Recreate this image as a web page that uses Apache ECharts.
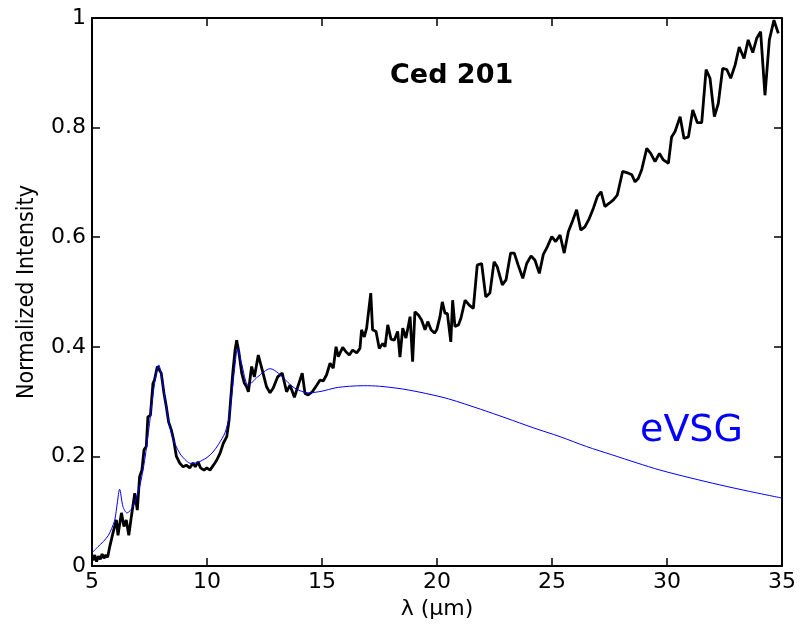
<!DOCTYPE html>
<html>
<head>
<meta charset="utf-8">
<script src="https://cdn.jsdelivr.net/npm/echarts@6/dist/echarts.min.js"></script>
<style>html,body{margin:0;padding:0;background:#fff}#c{width:800px;height:633px}</style>
</head>
<body>
<div id="c"></div>
<script>
// Observed spectrum (black)
const obsX = [5.04,5.12,5.2,5.28,5.36,5.44,5.52,5.6,5.68,5.77,5.91,6.06,6.13,6.28,6.39,6.49,6.60,6.71,6.86,6.97,7.07,7.17,7.26,7.36,7.43,7.54,7.65,7.72,7.84,7.91,8.01,8.13,8.23,8.33,8.45,8.55,8.67,8.81,8.96,9.10,9.25,9.39,9.49,9.61,9.72,9.87,9.99,10.13,10.28,10.42,10.57,10.71,10.86,10.96,11.04,11.12,11.22,11.29,11.39,11.51,11.62,11.72,11.80,11.94,12.06,12.23,12.40,12.59,12.74,12.88,13.07,13.27,13.46,13.61,13.80,13.97,14.14,14.26,14.40,14.58,14.77,14.91,15.06,15.20,15.35,15.49,15.61,15.71,15.90,16.04,16.19,16.33,16.51,16.65,16.72,16.84,16.94,17.12,17.20,17.35,17.49,17.64,17.74,17.86,18.00,18.14,18.29,18.39,18.51,18.65,18.83,18.94,19.04,19.19,19.33,19.48,19.60,19.74,19.89,19.99,20.13,20.23,20.35,20.45,20.60,20.68,20.78,20.93,21.04,21.22,21.40,21.58,21.75,21.94,22.12,22.30,22.48,22.62,22.84,23.00,23.20,23.36,23.53,23.73,23.90,24.09,24.26,24.45,24.62,24.80,24.99,25.16,25.35,25.53,25.71,25.88,26.07,26.25,26.43,26.62,26.80,26.97,27.13,27.30,27.49,27.67,27.84,28.07,28.25,28.47,28.61,28.75,28.90,29.12,29.29,29.48,29.67,29.84,30.06,30.20,30.35,30.57,30.74,30.93,31.12,31.32,31.51,31.70,31.87,32.06,32.23,32.42,32.60,32.77,32.96,33.14,33.35,33.53,33.73,33.90,34.07,34.26,34.45,34.65,34.84];
const obsY = [0.010,0.020,0.008,0.018,0.012,0.022,0.014,0.020,0.016,0.035,0.060,0.084,0.056,0.097,0.072,0.084,0.056,0.090,0.133,0.102,0.163,0.175,0.212,0.218,0.272,0.275,0.333,0.340,0.364,0.367,0.352,0.315,0.291,0.263,0.248,0.230,0.200,0.188,0.181,0.184,0.179,0.188,0.181,0.190,0.179,0.175,0.179,0.175,0.184,0.193,0.206,0.224,0.236,0.266,0.309,0.352,0.394,0.412,0.389,0.352,0.334,0.327,0.318,0.364,0.345,0.385,0.358,0.327,0.316,0.325,0.345,0.352,0.318,0.330,0.308,0.330,0.352,0.315,0.312,0.318,0.330,0.339,0.338,0.349,0.370,0.361,0.400,0.382,0.399,0.391,0.385,0.394,0.389,0.397,0.431,0.418,0.434,0.498,0.431,0.428,0.397,0.406,0.400,0.440,0.414,0.412,0.428,0.381,0.434,0.416,0.455,0.373,0.464,0.458,0.449,0.431,0.446,0.431,0.425,0.431,0.455,0.482,0.461,0.461,0.409,0.485,0.437,0.440,0.452,0.485,0.476,0.470,0.549,0.552,0.491,0.498,0.555,0.546,0.513,0.522,0.571,0.571,0.549,0.525,0.552,0.566,0.558,0.534,0.568,0.583,0.601,0.592,0.604,0.571,0.610,0.628,0.650,0.613,0.619,0.634,0.653,0.674,0.683,0.656,0.662,0.668,0.677,0.720,0.718,0.714,0.701,0.707,0.723,0.762,0.753,0.738,0.753,0.741,0.735,0.783,0.793,0.820,0.780,0.783,0.832,0.809,0.809,0.906,0.890,0.820,0.844,0.908,0.906,0.890,0.914,0.947,0.926,0.960,0.937,0.963,0.975,0.859,0.960,0.996,0.972];
// eVSG model (blue)
const modX = [5.0,5.26,5.5,5.7,5.85,5.99,6.1,6.2,6.35,6.52,6.78,7.07,7.29,7.5,7.72,7.9,8.09,8.3,8.52,8.81,9.1,9.3,9.6,9.8,10.0,10.26,10.5,10.78,10.95,11.07,11.2,11.33,11.5,11.8,12.2,12.75,13.1,13.4,13.8,14.4,15.0,15.57,16.2,16.8,17.5,18.5,19.5,20.5,21.9,23.0,24.2,25.35,26.5,27.6,28.7,29.7,31.0,32.3,33.6,35.0];
const modY = [0.024,0.035,0.045,0.055,0.068,0.084,0.115,0.140,0.108,0.097,0.108,0.145,0.193,0.26,0.333,0.367,0.327,0.272,0.233,0.206,0.192,0.187,0.189,0.193,0.198,0.208,0.222,0.243,0.27,0.309,0.36,0.397,0.37,0.33,0.345,0.36,0.352,0.34,0.325,0.316,0.319,0.325,0.328,0.329,0.328,0.323,0.315,0.305,0.286,0.27,0.252,0.236,0.218,0.203,0.188,0.175,0.161,0.148,0.136,0.124];
const xTicks = [5,10,15,20,25,30,35];
const yTicks = [0,0.2,0.4,0.6,0.8,1];
const titleText = 'Ced 201';
const modelLabel = 'eVSG';

const FONT = "'DejaVu Sans', sans-serif";
const chart = echarts.init(document.getElementById('c'), null, {renderer: 'canvas'});
const frame = {show: true, onZero: false, lineStyle: {color: '#000', width: 2}};
const tick = {show: true, inside: true, length: 8, lineStyle: {color: '#000', width: 1.5}};
chart.setOption({
  animation: false,
  backgroundColor: '#fff',
  grid: {left: 92, right: 18, top: 18, bottom: 67, containLabel: false},
  textStyle: {fontFamily: FONT},
  graphic: [
    {type: 'text', left: 390, top: 62, style: {text: titleText, font: "bold 27px 'DejaVu Sans'", fill: '#000'}},
    {type: 'text', left: 640, top: 412, style: {text: modelLabel, font: "38px 'DejaVu Sans'", fill: '#0000ff'}}
  ],
  xAxis: [
    {type: 'value', min: xTicks[0], max: xTicks[xTicks.length-1], interval: 5, position: 'bottom',
     name: 'λ (µm)', nameLocation: 'middle', nameGap: 30,
     nameTextStyle: {fontSize: 22, color: '#000', fontFamily: FONT},
     axisLine: frame, axisTick: tick, splitLine: {show: false},
     axisLabel: {fontSize: 22, color: '#000', margin: 5, fontFamily: FONT}},
    {type: 'value', min: xTicks[0], max: xTicks[xTicks.length-1], interval: 5, position: 'top',
     axisLine: frame, axisTick: tick, splitLine: {show: false}, axisLabel: {show: false}}
  ],
  yAxis: [
    {type: 'value', min: yTicks[0], max: yTicks[yTicks.length-1], interval: 0.2, position: 'left',
     name: 'Normalized Intensity', nameLocation: 'middle', nameGap: 53,
     nameTextStyle: {fontSize: 23, color: '#000', fontFamily: "'DejaVu Sans Condensed', 'DejaVu Sans'"},
     axisLine: frame, axisTick: tick, splitLine: {show: false},
     axisLabel: {fontSize: 22, color: '#000', margin: 6, fontFamily: FONT}},
    {type: 'value', min: yTicks[0], max: yTicks[yTicks.length-1], interval: 0.2, position: 'right',
     axisLine: frame, axisTick: tick, splitLine: {show: false}, axisLabel: {show: false}}
  ],
  series: [
    {type: 'line', name: 'observed', xAxisIndex: 0, yAxisIndex: 0, showSymbol: false,
     data: obsX.map((x, i) => [x, obsY[i]]),
     lineStyle: {color: '#000', width: 2.8}, itemStyle: {color: '#000'}},
    {type: 'line', name: modelLabel, xAxisIndex: 0, yAxisIndex: 0, showSymbol: false, smooth: 0.3,
     data: modX.map((x, i) => [x, modY[i]]),
     lineStyle: {color: '#0000ff', width: 1}, itemStyle: {color: '#0000ff'}}
  ]
});
</script>
</body>
</html>
